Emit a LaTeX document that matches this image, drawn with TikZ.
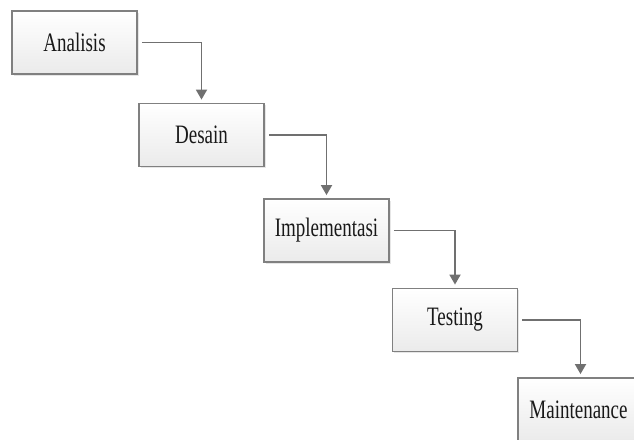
\documentclass[tikz,border=0pt]{standalone}
\usepackage{fontspec}
\setmainfont{Liberation Serif}
\usetikzlibrary{shadows,arrows.meta}

\newcommand\steplabel[1]{\scalebox{1}[1.4]{#1}}

\tikzset{
  phase/.style={
    draw=black!50, line width=1.8pt,
    top color=white, bottom color=black!8,
    minimum width=125pt, minimum height=63pt, inner sep=0pt,
    text=black!90, font=\fontsize{19}{22}\selectfont,
    drop shadow={opacity=0.2, shadow xshift=1.5pt, shadow yshift=-2pt}
  },
  flow/.style={
    draw=black!56, line width=1.8pt,
    -{Triangle[length=10pt,width=11pt]},
    shorten <=4pt, shorten >=3pt
  }
}

\begin{document}
\begin{tikzpicture}[x=1pt,y=1pt]
  \useasboundingbox (0,0) rectangle (634,439);
  \clip (0,0) rectangle (634,439);

  \node[phase] (ana) at (74.5,396.5) {\steplabel{Analisis}};
  \node[phase] (des) at (201.5,304)  {\steplabel{Desain}};
  \node[phase] (imp) at (326.5,208.5) {\steplabel{Implementasi}};
  \node[phase] (tes) at (455,119)    {\steplabel{Testing}};
  \node[phase, minimum width=134pt] (mai) at (585,29.5)
    {\raisebox{-2pt}{\steplabel{Maintenance}}\hspace*{13pt}};

  \draw[flow] (ana) -| (des);
  \draw[flow] (des) -| (imp);
  \draw[flow] (imp) -| (tes);
  \draw[flow] (tes) -| ([xshift=-4.5pt]mai.north);
\end{tikzpicture}
\end{document}
